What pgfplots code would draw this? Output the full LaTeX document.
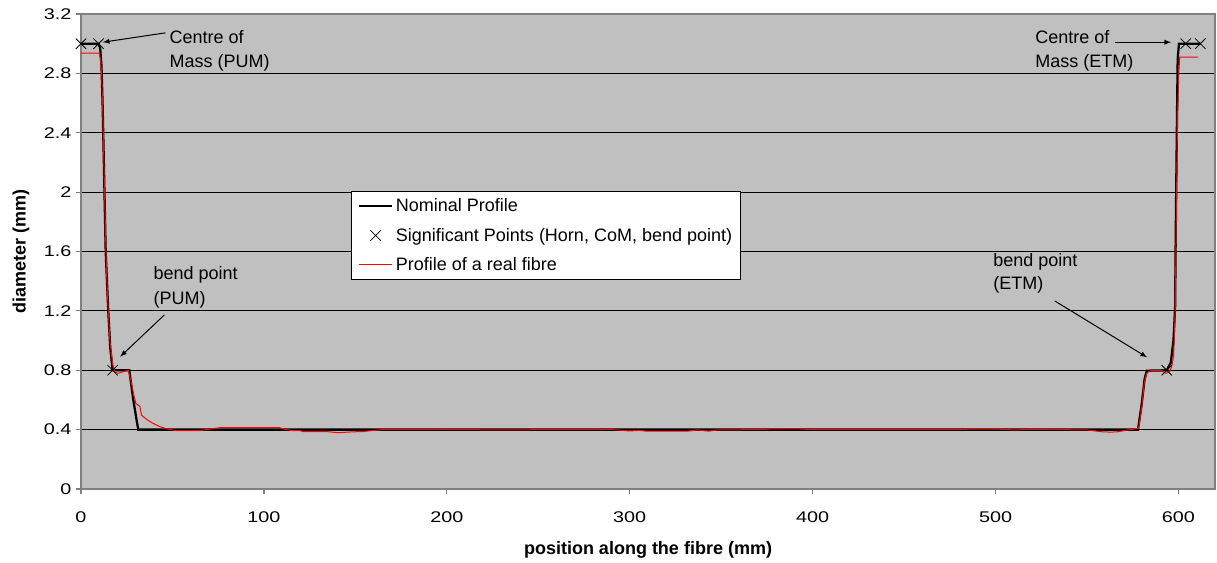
\documentclass[border=0pt]{standalone}
\usepackage{fontspec}
\setmainfont{Liberation Sans}
\newfontfamily\tickfont[FakeStretch=1.28]{Liberation Sans}
\usepackage{pgfplots}
\pgfplotsset{compat=1.18}
\definecolor{plotgrey}{RGB}{192,192,192}
\definecolor{framegrey}{RGB}{128,128,128}

\newcommand{\annfont}{\fontsize{13.5}{16}\selectfont}

\begin{document}
\begin{tikzpicture}
\begin{axis}[
  at={(0,0)}, anchor=south west,
  scale only axis, width=850.5pt, height=356.25pt,
  xmin=0, xmax=620, ymin=0, ymax=3.2,
  xtick={0,100,...,600},
  ytick={0,0.4,...,3.2},
  yticklabel style={/pgf/number format/fixed,/pgf/number format/precision=1},
  /pgf/number format/assume math mode=true,
  tick label style={font=\tickfont\fontsize{11.6}{14}\selectfont},
  xticklabel style={yshift=-9.5pt},
  tick align=outside, major tick length=3.75pt,
  tick style={framegrey, line width=0.9pt},
  xtick pos=bottom, ytick pos=left,
  axis line style={framegrey, line width=1pt},
  axis background/.style={fill=plotgrey},
  ymajorgrids, grid style={black, line width=0.75pt},
  xlabel={\bfseries position along the fibre (mm)},
  ylabel={\bfseries diameter (mm)},
  label style={font=\fontsize{13.5}{16}\selectfont},
  xlabel style={at={(axis description cs:0.5,-0.128)}, anchor=center},
  ylabel style={at={(axis description cs:-0.053,0.5)}, anchor=center},
  legend style={at={(rel axis cs:0.2385,0.6274)}, anchor=north west,
    font=\annfont, draw=black, line width=0.75pt, fill=white,
    cells={anchor=west}, row sep=6.6pt, inner xsep=4.5pt, inner ysep=3.5pt},
  legend image code/.code={\draw[mark repeat=2,mark phase=2,#1]
    plot coordinates {(0pt,0pt)(12.4pt,0pt)(24.8pt,0pt)};},
  clip=false,
]
% nominal profile
\addplot[black, line width=1.7pt] coordinates {
 (0,3)(9.6,3)(10.5,2.97)(11.2,2.85)(11.8,2.6)(12.5,2.2)(13.5,1.6)(14.9,1.2)
 (16,0.95)(17.3,0.8)(26.4,0.8)(28.6,0.6)(30.4,0.464)(31.3,0.4)(577.9,0.4)
 (580,0.58)(581.5,0.74)(582.7,0.797)(593.6,0.8)(595.8,0.85)(597.3,1.0)
 (598.2,1.23)(598.5,1.68)(599.2,2.49)(599.6,2.9)(600.3,3)(612,3)};
\addlegendentry{Nominal Profile}
% significant points
\addplot[only marks, mark=x, mark size=5.5pt, black, line width=0.6pt] coordinates {
 (0,3)(9.6,3)(17.3,0.8)(593.6,0.8)(604,3)(612,3)};
\addlegendentry{Significant Points (Horn, CoM, bend point)}
% measured fibre
\addplot[red, line width=0.75pt] coordinates {
 (0,2.936)(10,2.936)(10.6,2.9)(11.3,2.8)(12,2.5)(12.7,2.1)(13.5,1.68)(14,1.45)
 (14.9,1.2)(15.8,1.0)(17.3,0.84)(18.6,0.785)(20.4,0.78)(23,0.79)(25.8,0.8)
 (27.1,0.74)(28.9,0.63)(30,0.576)(32.2,0.557)(33.1,0.497)(35.8,0.47)(39,0.445)
 (43.1,0.42)(47,0.405)(52.2,0.393)(64.9,0.393)(70,0.403)(75.9,0.413)(92,0.413)
 (108.6,0.413)(112,0.4)(116,0.393)(119.6,0.393)(122,0.386)(135,0.386)(141,0.379)
 (148,0.385)(154,0.387)(160,0.395)(165,0.4)(200,0.401)(230,0.398)(256,0.4)
 (290,0.401)(300,0.391)(305,0.395)(309,0.39)(332,0.39)(337,0.398)(343,0.39)
 (348,0.398)(370,0.4)(378,0.405)(392,0.405)(400,0.4)(480,0.4)(487,0.404)
 (500,0.404)(510,0.398)(520,0.402)(535,0.4)(550,0.398)(558,0.386)(563,0.383)
 (567,0.386)(571,0.395)(578.2,0.409)(580,0.555)(581.3,0.712)(582.7,0.78)
 (584.5,0.797)(588.2,0.8)(590.9,0.797)(593.1,0.78)(594.9,0.785)(596.3,0.824)
 (597.3,0.89)(597.7,1.0)(598.3,1.23)(598.7,1.68)(599.5,2.49)(600.2,2.8)
 (600.7,2.91)(610.8,2.91)};
\addlegendentry{Profile of a real fibre}
% annotations
\node[anchor=base west, font=\annfont, inner sep=0pt] at (axis cs:48.3,3.004) {Centre of};
\node[anchor=base west, font=\annfont, inner sep=0pt] at (axis cs:48.3,2.842) {Mass (PUM)};
\draw[-latex, line width=0.75pt] (axis cs:46.2,3.073) -- (axis cs:11.9,3.01);
\node[anchor=base west, font=\annfont, inner sep=0pt] at (axis cs:39.6,1.41) {bend point};
\node[anchor=base west, font=\annfont, inner sep=0pt] at (axis cs:39.6,1.245) {(PUM)};
\draw[-latex, line width=0.75pt] (axis cs:45.6,1.173) -- (axis cs:21.4,0.891);
\node[anchor=base west, font=\annfont, inner sep=0pt] at (axis cs:521.7,3.004) {Centre of};
\node[anchor=base west, font=\annfont, inner sep=0pt] at (axis cs:521.7,2.842) {Mass (ETM)};
\draw[-latex, line width=0.75pt] (axis cs:565.2,3.01) -- (axis cs:596,3.01);
\node[anchor=base west, font=\annfont, inner sep=0pt] at (axis cs:498.7,1.498) {bend point};
\node[anchor=base west, font=\annfont, inner sep=0pt] at (axis cs:498.7,1.341) {(ETM)};
\draw[-latex, line width=0.75pt] (axis cs:532.4,1.267) -- (axis cs:582.9,0.887);
\end{axis}
\pgfresetboundingbox
\path[use as bounding box] (-60.75pt,-54.75pt) rectangle (852pt,366.75pt);
\end{tikzpicture}
\end{document}
